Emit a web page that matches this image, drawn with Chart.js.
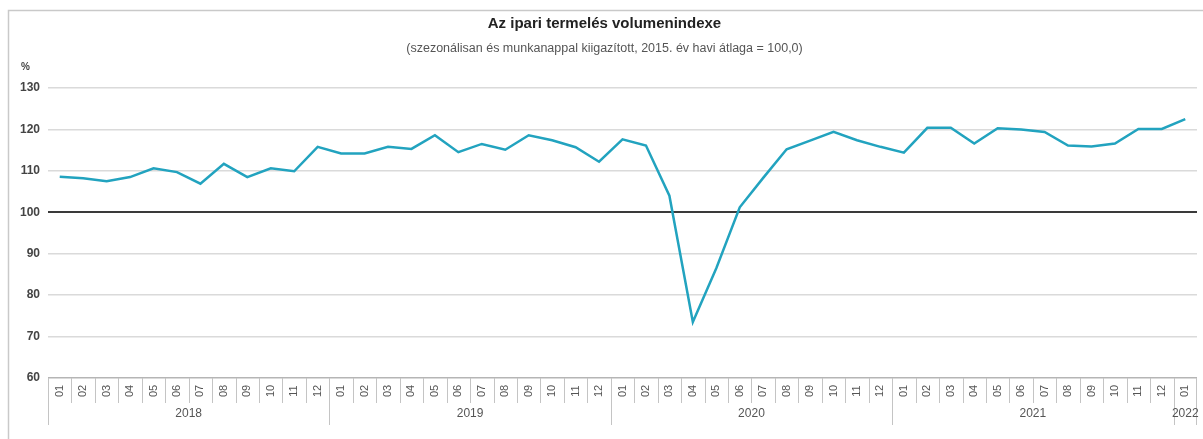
<!DOCTYPE html>
<html>
<head>
<meta charset="utf-8">
<script src="https://cdn.jsdelivr.net/npm/chart.js@4.4.1/dist/chart.umd.min.js"></script>
<style>
html,body{margin:0;padding:0;background:#fff;}
#wrap{width:1203px;height:439px;}
</style>
</head>
<body>
<div id="wrap"><canvas id="c" width="1203" height="439"></canvas></div>
<script>
const categories = [
 '2018-01','2018-02','2018-03','2018-04','2018-05','2018-06','2018-07','2018-08','2018-09','2018-10','2018-11','2018-12',
 '2019-01','2019-02','2019-03','2019-04','2019-05','2019-06','2019-07','2019-08','2019-09','2019-10','2019-11','2019-12',
 '2020-01','2020-02','2020-03','2020-04','2020-05','2020-06','2020-07','2020-08','2020-09','2020-10','2020-11','2020-12',
 '2021-01','2021-02','2021-03','2021-04','2021-05','2021-06','2021-07','2021-08','2021-09','2021-10','2021-11','2021-12',
 '2022-01'
];
const values = [
 108.6,108.2,107.5,108.5,110.6,109.7,106.9,111.7,108.5,110.6,109.9,115.8,
 114.2,114.2,115.8,115.3,118.6,114.5,116.5,115.1,118.6,117.4,115.7,112.2,
 117.6,116.1,104.0,73.5,86.5,101.2,108.3,115.2,117.3,119.4,117.4,115.8,
 114.4,120.4,120.4,116.6,120.3,120.0,119.4,116.1,115.9,116.6,120.1,120.1,
 122.5
];
const yTicks = [60,70,80,90,100,110,120,130];
const titleText = 'Az ipari termelés volumenindexe';
const subtitleText = '(szezonálisan és munkanappal kiigazított, 2015. év havi átlaga = 100,0)';
const unitLabel = '%';

const FONT = "'Liberation Sans', Arial, sans-serif";

const decor = {
  id: 'decor',
  beforeDraw(chart) {
    const ctx = chart.ctx;
    ctx.save();
    ctx.strokeStyle = '#c9c9c9';
    ctx.lineWidth = 1.5;
    ctx.strokeRect(8.5, 10.5, 1300, 500);
    ctx.restore();
  },
  afterDraw(chart) {
    const ctx = chart.ctx;
    const xs = chart.scales.x;
    const area = chart.chartArea;
    const bottom = area.bottom;
    const half = (xs.getPixelForValue(1) - xs.getPixelForValue(0)) / 2;
    ctx.save();
    ctx.fillStyle = '#444';
    ctx.font = "bold 10px " + FONT;
    ctx.textAlign = 'left';
    ctx.textBaseline = 'middle';
    ctx.fillText(unitLabel, 21, 67);
    ctx.strokeStyle = '#c4c4c4';
    ctx.lineWidth = 1;
    for (let i = 0; i < categories.length; i++) {
      const cx = xs.getPixelForValue(i);
      const left = Math.round(cx - half) + 0.5;
      const isYear = categories[i].endsWith('-01');
      ctx.beginPath();
      ctx.moveTo(left, bottom);
      ctx.lineTo(left, bottom + (isYear ? 47 : 25));
      ctx.stroke();
    }
    const lastRight = Math.round(xs.getPixelForValue(categories.length - 1) + half) - 0.5;
    ctx.beginPath();
    ctx.moveTo(lastRight, bottom);
    ctx.lineTo(lastRight, bottom + 47);
    ctx.stroke();
    ctx.fillStyle = '#555';
    ctx.font = "11px " + FONT;
    ctx.textAlign = 'center';
    ctx.textBaseline = 'middle';
    for (let i = 0; i < categories.length; i++) {
      const cx = xs.getPixelForValue(i);
      ctx.save();
      ctx.translate(cx, bottom + 13);
      ctx.rotate(-Math.PI / 2);
      ctx.fillText(categories[i].slice(5), 0, 0);
      ctx.restore();
    }
    ctx.font = "12px " + FONT;
    const groups = {};
    categories.forEach((c, i) => {
      const y = c.slice(0, 4);
      if (!groups[y]) groups[y] = [];
      groups[y].push(i);
    });
    Object.keys(groups).forEach(y => {
      const idx = groups[y];
      const a = xs.getPixelForValue(idx[0]);
      const b = xs.getPixelForValue(idx[idx.length - 1]);
      ctx.fillText(y, (a + b) / 2, bottom + 36);
    });
    ctx.restore();
  }
};

new Chart(document.getElementById('c'), {
  type: 'line',
  data: {
    labels: categories,
    datasets: [{
      data: values,
      borderColor: '#22a3bf',
      borderWidth: 2.5,
      pointRadius: 0,
      tension: 0,
      fill: false
    }]
  },
  options: {
    responsive: false,
    animation: false,
    devicePixelRatio: 1,
    layout: { padding: { left: 12, right: 6, top: 0, bottom: 61 } },
    plugins: {
      legend: { display: false },
      tooltip: { enabled: false },
      title: {
        display: true,
        text: titleText,
        color: '#222',
        font: { family: FONT, size: 15, weight: 'bold' },
        padding: { top: 15, bottom: 3 }
      },
      subtitle: {
        display: true,
        text: subtitleText,
        color: '#555',
        font: { family: FONT, size: 12.5 },
        padding: { top: 5, bottom: 32 }
      }
    },
    scales: {
      x: {
        type: 'category',
        offset: true,
        display: false,
        grid: { display: false }
      },
      y: {
        min: 60,
        max: 130,
        afterFit(scale) { scale.width = 36; },
        afterBuildTicks(scale) { scale.ticks = yTicks.map(v => ({ value: v })); },
        border: { display: false },
        grid: {
          drawTicks: false,
          color: ctx => ctx.tick && ctx.tick.value === 100 ? '#3a3a3a' : (ctx.tick && ctx.tick.value === 60 ? '#b5b5b5' : '#dadada'),
          lineWidth: ctx => ctx.tick && ctx.tick.value === 100 ? 2 : 1.5
        },
        ticks: {
          padding: 8,
          color: '#444',
          font: { family: FONT, size: 12, weight: 'bold' }
        }
      }
    }
  },
  plugins: [decor]
});
</script>
</body>
</html>
